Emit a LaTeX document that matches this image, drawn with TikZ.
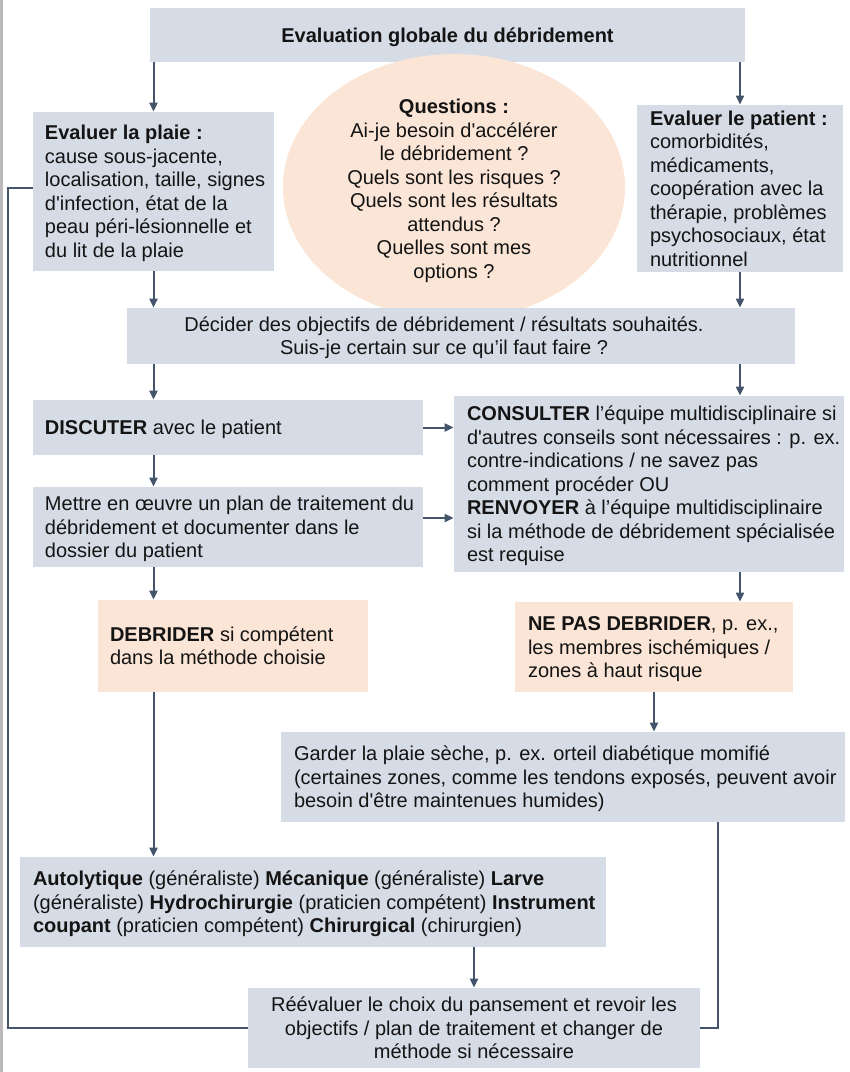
\documentclass[tikz,border=0pt]{standalone}
\usepackage{fontspec}
\setmainfont{Liberation Sans}
\usetikzlibrary{shapes.geometric,arrows.meta}

\definecolor{gris}{HTML}{D6DCE5}
\definecolor{peche}{HTML}{FBE5D6}
\definecolor{trait}{HTML}{44546A}
\definecolor{encre}{HTML}{141414}

\newcommand{\corps}{\fontsize{10}{11.75}\selectfont}
% bloc de texte aligne a gauche, sans coupure de ligne
\newcommand{\bloc}[2]{\makebox[#1][l]{\raisebox{-1.25pt}[\height][\depth]{\begin{tabular}{@{}l@{}}#2\end{tabular}}}}
\newcommand{\centre}[1]{\raisebox{-1.25pt}[\height][\depth]{\begin{tabular}{@{}c@{}}#1\end{tabular}}}

\begin{document}
\begin{tikzpicture}[x=0.5pt, y=-0.5pt, font=\corps, text=encre,
    boite/.style={fill=gris, inner sep=0pt},
    boiteorange/.style={boite, fill=peche},
    fleche/.style={-{Triangle[length=4.5pt,width=4pt]}, line width=1pt, draw=trait},
    ligne/.style={line width=1pt, draw=trait}]
  \useasboundingbox (0,0) rectangle (850,1072);
  \draw[gray!55, line width=1.5pt] (1.5,0) -- (1.5,1072);

  \node[boite, minimum width=297.5pt, minimum height=27pt] (titre) at (447.5,35) {\centre{\textbf{Evaluation globale du débridement}}};

  \node[boite, minimum width=120.5pt, minimum height=79.5pt] (plaie) at (153.5,191.5)
    {\bloc{108.5pt}{\textbf{Evaluer la plaie :}\\ cause sous-jacente,\\ localisation, taille, signes\\ d\textquotesingle infection, état de la\\ peau péri-lésionnelle et\\ du lit de la plaie}};
  \node[ellipse, fill=peche, inner sep=0pt, minimum width=171pt, minimum height=99pt] (questions) at (454,187)
    {\raisebox{-2.25pt}[\height][\depth]{\begin{tabular}{@{}c@{}}\textbf{Questions :}\\ Ai-je besoin d\textquotesingle accélérer\\ le débridement ?\\ Quels sont les risques ?\\ Quels sont les résultats\\ attendus ?\\ Quelles sont mes\\ options ?\end{tabular}}};
  \node[boite, minimum width=103pt, minimum height=83.5pt] (patient) at (740,188.5)
    {\bloc{90pt}{\textbf{Evaluer le patient :}\\ comorbidités,\\ médicaments,\\ coopération avec la\\ thérapie, problèmes\\ psychosociaux, état\\ nutritionnel}};

  \node[boite, minimum width=334pt, minimum height=28pt] (decider) at (461,336)
    {\centre{Décider des objectifs de débridement / résultats souhaités.\\ Suis-je certain sur ce qu’il faut faire ?}\rule{17pt}{0pt}};

  \node[boite, minimum width=195pt, minimum height=27.5pt] (discuter) at (228,427.5)
    {\bloc{183pt}{\textbf{DISCUTER} avec le patient}};
  \node[boite, minimum width=195pt, minimum height=40pt] (mettre) at (228,527)
    {\bloc{183pt}{Mettre en œuvre un plan de traitement du\\ débridement et documenter dans le\\ dossier du patient}};
  \node[boite, minimum width=195pt, minimum height=88pt] (consulter) at (649,484)
    {\bloc{182pt}{\textbf{CONSULTER} l’équipe multidisciplinaire si\\ d\textquotesingle autres conseils sont nécessaires : p. ex.\\ contre-indications / ne savez pas\\ comment procéder OU\\ \textbf{RENVOYER} à l’équipe multidisciplinaire\\ si la méthode de débridement spécialisée\\ est requise}};

  \node[boiteorange, minimum width=135pt, minimum height=46pt] (debrider) at (233,646)
    {\bloc{123pt}{\textbf{DEBRIDER} si compétent\\ dans la méthode choisie}};
  \node[boiteorange, minimum width=139pt, minimum height=45pt] (nepas) at (654,647)
    {\bloc{126pt}{\textbf{NE PAS DEBRIDER}, p. ex.,\\ les membres ischémiques /\\ zones à haut risque}};

  \node[boite, minimum width=282pt, minimum height=45pt] (garder) at (563,777)
    {\bloc{269pt}{Garder la plaie sèche, p. ex. orteil diabétique momifié\\ (certaines zones, comme les tendons exposés, peuvent avoir\\ besoin d\textquotesingle être maintenues humides)}};

  \node[boite, minimum width=293pt, minimum height=45pt] (methodes) at (313,902)
    {\bloc{280pt}{\textbf{Autolytique} (généraliste) \textbf{Mécanique} (généraliste) \textbf{Larve}\\ (généraliste) \textbf{Hydrochirurgie} (praticien compétent) \textbf{Instrument}\\ \textbf{coupant} (praticien compétent) \textbf{Chirurgical} (chirurgien)}};

  \node[boite, minimum width=226pt, minimum height=40pt] (reeval) at (474,1028)
    {\centre{Réévaluer le choix du pansement et revoir les\\ objectifs / plan de traitement et changer de\\ méthode si nécessaire}};

  \coordinate (retour) at (8,188);

  \draw[fleche] (plaie.north |- titre.south) -- (plaie.north);
  \draw[fleche] (patient.north |- titre.south) -- (patient.north);
  \draw[fleche] (plaie.south) -- (plaie.south |- decider.north);
  \draw[fleche] (patient.south) -- (patient.south |- decider.north);
  \draw[fleche] (decider.south -| plaie.south) -- (discuter.north -| plaie.south);
  \draw[fleche] (decider.south -| patient.south) -- (consulter.north -| patient.south);
  \draw[fleche] (discuter.east) -- (discuter.east -| consulter.west);
  \draw[fleche] ([yshift=4.5pt]mettre.east) -- ([yshift=4.5pt]mettre.east -| consulter.west);
  \draw[fleche] (discuter.south -| plaie.south) -- (mettre.north -| plaie.south);
  \draw[fleche] (mettre.south -| plaie.south) -- (debrider.north -| plaie.south);
  \draw[fleche] (consulter.south -| patient.south) -- (nepas.north -| patient.south);
  \draw[fleche] (nepas.south) -- (nepas.south |- garder.north);
  \draw[fleche] (debrider.south -| plaie.south) -- (methodes.north -| plaie.south);
  \draw[fleche] (reeval.north |- methodes.south) -- (reeval.north);
  \draw[ligne] ([xshift=-63.5pt]garder.south east) |- (reeval.east);
  \draw[ligne] (reeval.west) -| (retour) -- (retour -| plaie.west);
\end{tikzpicture}
\end{document}
